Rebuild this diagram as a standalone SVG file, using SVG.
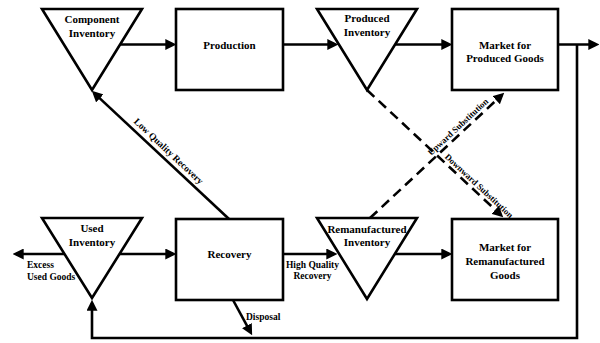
<svg xmlns="http://www.w3.org/2000/svg" width="600" height="343" viewBox="0 0 600 343">
<defs>
<marker id="ah" markerUnits="userSpaceOnUse" markerWidth="11" markerHeight="11" viewBox="0 0 10 10" refX="7" refY="5" orient="auto">
<path d="M0,0 L10,5 L0,10 z" fill="#000"/>
</marker>
</defs>
<style>
.shape{fill:#fff;stroke:#000;stroke-width:2.6;stroke-linejoin:miter}
.lbl{font-family:"Liberation Serif","Times New Roman",serif;font-weight:bold;font-size:11px;fill:#000;text-anchor:middle}
.sm{font-family:"Liberation Serif","Times New Roman",serif;font-weight:bold;font-size:9.5px;fill:#000}
.tiny{font-family:"Liberation Serif","Times New Roman",serif;font-weight:bold;font-size:8.8px;fill:#000;text-anchor:middle}
.ln{fill:none;stroke:#000;stroke-width:2.6;marker-end:url(#ah)}
.dash{fill:none;stroke:#000;stroke-width:2.6;stroke-dasharray:10 6;marker-end:url(#ah)}
</style>
<rect width="600" height="343" fill="#fff"/>
<g id="connectors">
<line class="ln" x1="120" y1="44.5" x2="173" y2="44.5"/>
<line class="ln" x1="283" y1="44.5" x2="335" y2="44.5"/>
<line class="ln" x1="395" y1="44.5" x2="449" y2="44.5"/>
<line class="ln" x1="558" y1="44.5" x2="596" y2="44.5"/>
<polyline class="ln" points="577,44.5 577,338 92,338 92,303"/>
<line class="ln" x1="119.5" y1="254" x2="173" y2="254"/>
<line class="ln" x1="64.5" y1="254" x2="16" y2="254"/>
<line class="ln" x1="283" y1="254" x2="334" y2="254"/>
<line class="ln" x1="395" y1="254" x2="449" y2="254"/>
<line class="ln" x1="233" y1="300" x2="250.6" y2="332.4"/>
<line class="ln" x1="229" y1="219" x2="94.2" y2="93.1"/>
<line class="dash" x1="367" y1="90" x2="500.8" y2="215"/>
<line class="dash" x1="370" y1="218" x2="501.8" y2="95"/>
<text class="sm" x="27" y="267.5">Excess</text>
<text class="sm" x="27" y="279.5">Used Goods</text>
<text class="sm" x="312.5" y="267.5" text-anchor="middle">High Quality</text>
<text class="sm" x="312.5" y="279" text-anchor="middle">Recovery</text>
<text class="sm" x="246" y="319.5">Disposal</text>
<text class="sm" text-anchor="middle" transform="translate(166.5,153.5) rotate(43.3)">Low Quality Recovery</text>
<text class="tiny" transform="translate(460,129) rotate(-43)">Upward Substitution</text>
<text class="tiny" transform="translate(477,188) rotate(43)">Downward Substitution</text>
</g>
<g id="component-inventory">
<polygon class="shape" points="42,9 142,9 92,90"/>
<text class="lbl" x="92" y="23">Component</text>
<text class="lbl" x="92" y="37">Inventory</text>
</g>
<g id="production">
<rect class="shape" x="176" y="9" width="107" height="81"/>
<text class="lbl" x="229.5" y="48.5">Production</text>
</g>
<g id="produced-inventory">
<polygon class="shape" points="317,9 417,9 367,90"/>
<text class="lbl" x="367" y="21.5">Produced</text>
<text class="lbl" x="367" y="36">Inventory</text>
</g>
<g id="market-produced">
<rect class="shape" x="452" y="9" width="106" height="81"/>
<text class="lbl" x="505" y="48.5">Market for</text>
<text class="lbl" x="505" y="61.5">Produced Goods</text>
</g>
<g id="used-inventory">
<polygon class="shape" points="42,218 142,218 92,298"/>
<text class="lbl" x="92" y="232">Used</text>
<text class="lbl" x="92" y="246">Inventory</text>
</g>
<g id="recovery">
<rect class="shape" x="176" y="219" width="107" height="81"/>
<text class="lbl" x="229.5" y="258">Recovery</text>
</g>
<g id="remanufactured-inventory">
<polygon class="shape" points="317,218 417,218 367,299"/>
<text class="lbl" x="367" y="233">Remanufactured</text>
<text class="lbl" x="367" y="246">Inventory</text>
</g>
<g id="market-remanufactured">
<rect class="shape" x="452" y="219" width="106" height="81"/>
<text class="lbl" x="505" y="251">Market for</text>
<text class="lbl" x="505" y="265">Remanufactured</text>
<text class="lbl" x="505" y="278.5">Goods</text>
</g>
</svg>
